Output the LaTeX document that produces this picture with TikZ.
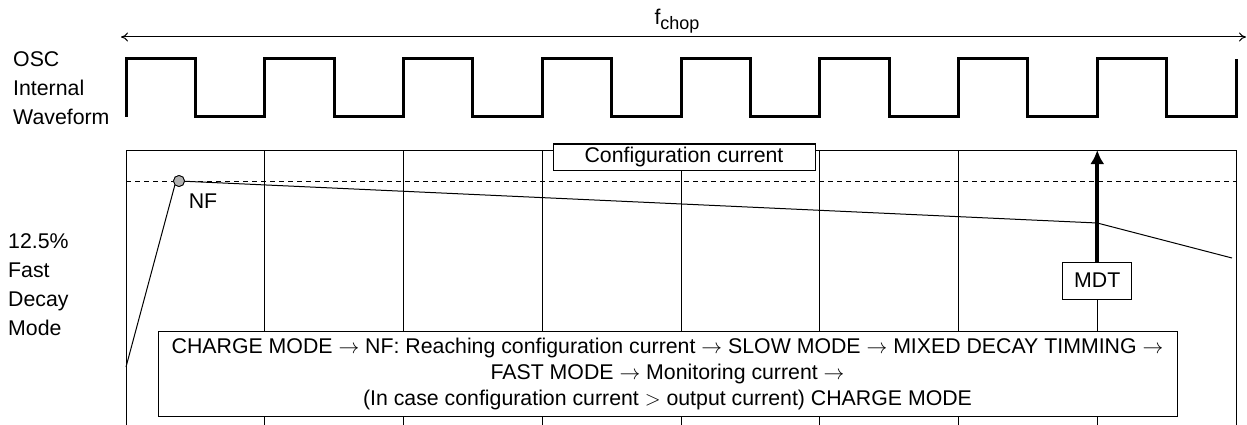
\documentclass[tikz,border=0pt]{standalone}
\usepackage{fontspec}
\setmainfont{Liberation Sans}
\usetikzlibrary{arrows.meta}
\newcommand{\rarr}{\ensuremath{\rightarrow}}
\begin{document}
\begin{tikzpicture}[x=1pt,y=-1pt,
  txt/.style={font=\fontsize{21.3}{26}\selectfont, inner sep=0pt},
  gridline/.style={line width=1pt},
  wave/.style={line width=3pt, line join=miter},
  labelbox/.style={draw, line width=1pt, fill=white, txt, align=center}]
\useasboundingbox (0,0) rectangle (1247,425);
% top f_chop arrow
\coordinate (fl) at (121,37);
\coordinate (fr) at (1246,37);
\draw[line width=1pt, {To[length=7pt,width=9pt]}-{To[length=7pt,width=9pt]}] (fl) -- (fr);
\node[txt] (fchop) at (677,21) {f\raisebox{-5pt}{\fontsize{18}{18}\selectfont chop}};
% left labels
\node[txt, anchor=west, align=left, font=\fontsize{21.3}{29}\selectfont] (osc) at (13,88) {OSC\\Internal\\Waveform};
\node[txt, anchor=west, align=left, font=\fontsize{21.3}{29}\selectfont] (fdm) at (8,284.5) {12.5\%\\Fast\\Decay\\Mode};
% waveform
\draw[wave] (126,117) -- (126,59)
  \foreach \k in {0,...,7} {
    -- ({126+138.75*\k+69.375},59) -- ({126+138.75*\k+69.375},117)
    -- ({126+138.75*(\k+1)},117) -- ({126+138.75*(\k+1)},59)
  };
% grid frame
\draw[gridline] (126,425) -- (126,150) -- (1236,150) -- (1236,425);
\foreach \k in {1,2,3,5,6} {
  \draw[gridline] ({126+138.75*\k},150) -- ({126+138.75*\k},425);
}
% dashed configuration level
\draw[line width=1pt, dash pattern=on 5pt off 4pt] (126,181) -- (1236,181);
% configuration current box
\node[labelbox, minimum width=262pt, minimum height=26pt] (cfg) at (684,157) {Configuration current};
\draw[gridline] (cfg.south -| 681,0) -- (681,425);
% MDT box and arrow
\node[labelbox, minimum width=69pt, minimum height=37pt] (mdt) at (1097.25,280.5) {MDT};
\coordinate (mdttop) at (1097.25,150);
\draw[line width=4pt, -{Latex[length=14pt,width=14pt]}] (mdt.north) -- (mdttop);
\draw[gridline] (mdt.south) -- (1097.25,425);
% current curve
\coordinate (c0) at (126,367);
\node[circle, draw, fill=black!30, line width=0.8pt, minimum size=11pt, inner sep=0pt] (nf) at (179,181) {};
\coordinate (c2) at (1097.25,223);
\coordinate (c3) at (1232,258);
\draw[line width=1pt] (c0) -- (nf.south west) (nf.center) -- (c2) -- (c3);
\node[circle, draw, fill=black!30, line width=0.8pt, minimum size=11pt, inner sep=0pt] at (nf) {};
\node[txt] (nflabel) at (203,201) {NF};
% mode sequence box
\node[labelbox, minimum width=1019pt, minimum height=85pt] (modes) at (667.5,373.5)
  {CHARGE MODE \rarr{} NF: Reaching configuration current \rarr{} SLOW MODE \rarr{} MIXED DECAY TIMMING \rarr\\
   FAST MODE \rarr{} Monitoring current \rarr\\
   (In case configuration current \ensuremath{>} output current) CHARGE MODE};
\end{tikzpicture}
\end{document}
